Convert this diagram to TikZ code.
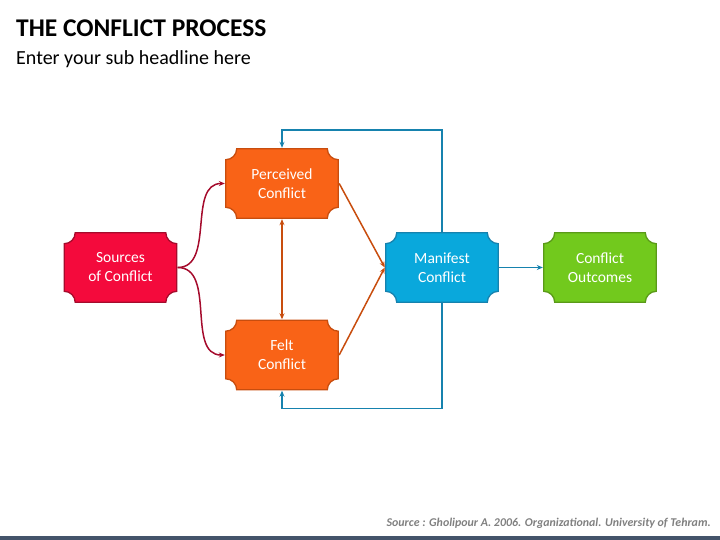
\documentclass[tikz,border=0pt]{standalone}
\usepackage{fontspec}
\setmainfont{Carlito}
\usetikzlibrary{calc,arrows.meta}
\definecolor{srcred}{HTML}{F40A3C}
\definecolor{srcline}{HTML}{A50B2C}
\definecolor{feltorange}{HTML}{F96317}
\definecolor{orangeline}{HTML}{C84D0E}
\definecolor{manblue}{HTML}{09A8DC}
\definecolor{blueline}{HTML}{1682AE}
\definecolor{outgreen}{HTML}{72C91D}
\definecolor{greenline}{HTML}{5A9A18}
\definecolor{barslate}{HTML}{44546A}
\def\plaque#1#2{\draw[line width=1.3pt, draw=#1, fill=#2] let \p1=(path picture bounding box.south west), \p2=(path picture bounding box.north east) in
  ({\x1+11.7pt},{\y1+0.7pt}) -- ({\x2-11.7pt},{\y1+0.7pt}) arc (180:90:11pt) -- ({\x2-0.7pt},{\y2-11.7pt}) arc (270:180:11pt)
  -- ({\x1+11.7pt},{\y2-0.7pt}) arc (0:-90:11pt) -- ({\x1+0.7pt},{\y1+11.7pt}) arc (90:0:11pt) -- cycle;}
\tikzset{
  stage/.style 2 args={minimum width=114pt, minimum height=71pt, inner sep=0pt, text=white, align=center,
    font=\fontsize{15.5}{19}\selectfont, path picture={\plaque{#1}{#2}}},
  link/.style={line width=1.5pt, -{Stealth[length=6pt,width=5pt]}}
}

\begin{document}
\begin{tikzpicture}[x=1pt, y=-1pt]
		%%%%% START %%%%%
		\useasboundingbox (0, 0) rectangle (720, 540);
		\fill[barslate] (0, 536) rectangle (720, 540);
		
		\node[anchor=base west, inner sep=0pt, font=\bfseries\fontsize{25.5}{30}\selectfont] (title) at (16, 37) {THE CONFLICT PROCESS};
		\node[anchor=base west, inner sep=0pt, font=\fontsize{20}{24}\selectfont] (subtitle) at (16, 65) {Enter your sub headline here};
		\node[anchor=base east, inner sep=0pt, text=black!50, font=\bfseries\itshape\fontsize{11.9}{14}\selectfont] (source) at (711, 526) {Source : Gholipour A. 2006. Organizational. University of Tehram.};
		
		\node[stage={srcline}{srcred}] (sources) at (120.5, 267.5) {Sources\\of Conflict};
		\node[stage={orangeline}{feltorange}] (perceived) at (282, 183.5) {Perceived\\Conflict};
		\node[stage={orangeline}{feltorange}] (felt) at (282, 355) {Felt\\Conflict};
		\node[stage={blueline}{manblue}] (manifest) at (442, 267.5) {Manifest\\Conflict};
		\node[stage={greenline}{outgreen}] (outcomes) at (600, 267.5) {Conflict\\Outcomes};
		
		\draw[link, srcline] (sources.east) to[out=0, in=180] (perceived.west);
		\draw[link, srcline] (sources.east) to[out=0, in=180] (felt.west);
		
		\draw[link, orangeline, {Stealth[length=6pt,width=5pt]}-{Stealth[length=6pt,width=5pt]}] (perceived.south) -- (felt.north);
		\draw[link, orangeline] (perceived.east) -- (manifest.west);
		\draw[link, orangeline] (felt.east) -- (manifest.west);
		
		\draw[link, blueline] (manifest.east) -- (outcomes.west);
		\draw[link, blueline] (manifest.north) |- ($(perceived.north)+(0, -18)$) -- (perceived.north);
		\draw[link, blueline] (manifest.south) |- ($(felt.south)+(0, 18)$) -- (felt.south);
		%%%%% END %%%%%
	\end{tikzpicture}
\end{document}
